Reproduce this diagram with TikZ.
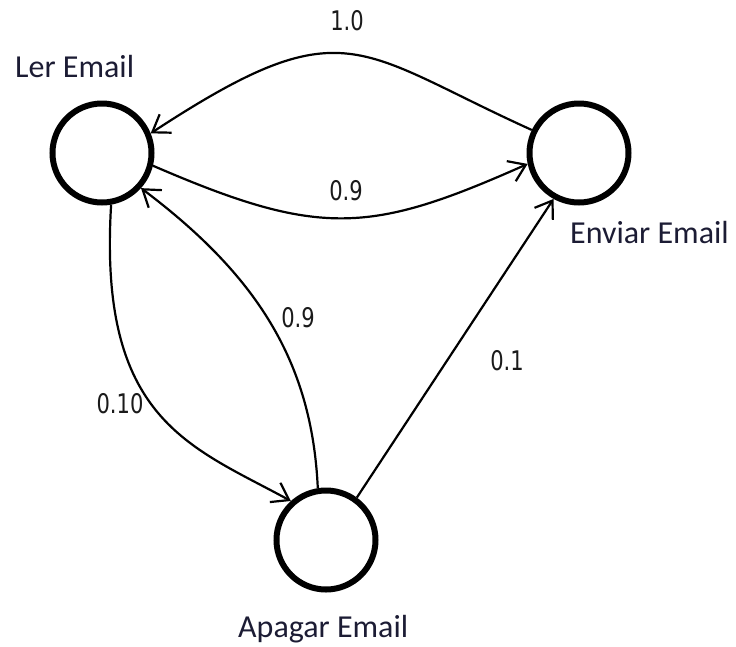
\documentclass[tikz,border=0pt]{standalone}
\usepackage{fontspec}
\usetikzlibrary{arrows.meta}
\newfontfamily\lblfont{Carlito}
\newfontfamily\numfont[FakeStretch=0.78]{DejaVu Sans}
\definecolor{lblink}{HTML}{1C1C34}
\definecolor{numink}{HTML}{1A1A1A}
\tikzset{
  state/.style={circle, draw=black, line width=6pt, minimum size=99pt, inner sep=0pt},
  statename/.style={anchor=base west, inner sep=0pt, text=lblink,
    font=\lblfont\fontsize{32}{38}\selectfont},
  prob/.style={inner sep=0pt, text=numink, font=\numfont\fontsize{27}{32}\selectfont},
  trans/.style={line width=2.2pt, -{Straight Barb[length=16pt, width=22pt, line width=2.2pt]}}
}
\begin{document}
\begin{tikzpicture}[x=1pt, y=-1pt]
  \useasboundingbox (0,0) rectangle (736,646);

  % states
  \node[state] (ler)    at (102,153) {};
  \node[state] (enviar) at (579,153) {};
  \node[state] (apagar) at (326,540) {};

  % state names
  \node[statename] (lerlbl)    at (15,77)   {Ler Email};
  \node[statename] (enviarlbl) at (570,243) {Enviar Email};
  \node[statename] (apagarlbl) at (238,637) {Apagar Email};

  % transitions
  \draw[trans] (enviar.154) .. controls (355,50) and (345,6) .. (ler.22);
  \draw[trans] (ler.-14) .. controls (320,238) and (370,234) .. (enviar.192);
  \draw[trans] (ler.280) .. controls (98,420) and (190,446) .. (apagar.132);
  \draw[trans] (apagar.99) .. controls (312,360) and (255,274) .. (ler.-42);
  \draw[trans] (apagar.54) -- (enviar.241);

  % transition probabilities
  \node[prob] (p1) at (347,21)  {1.0};
  \node[prob] (p2) at (346,191) {0.9};
  \node[prob] (p3) at (298,318) {0.9};
  \node[prob] (p4) at (120,404) {0.10};
  \node[prob] (p5) at (507,361) {0.1};
\end{tikzpicture}
\end{document}
